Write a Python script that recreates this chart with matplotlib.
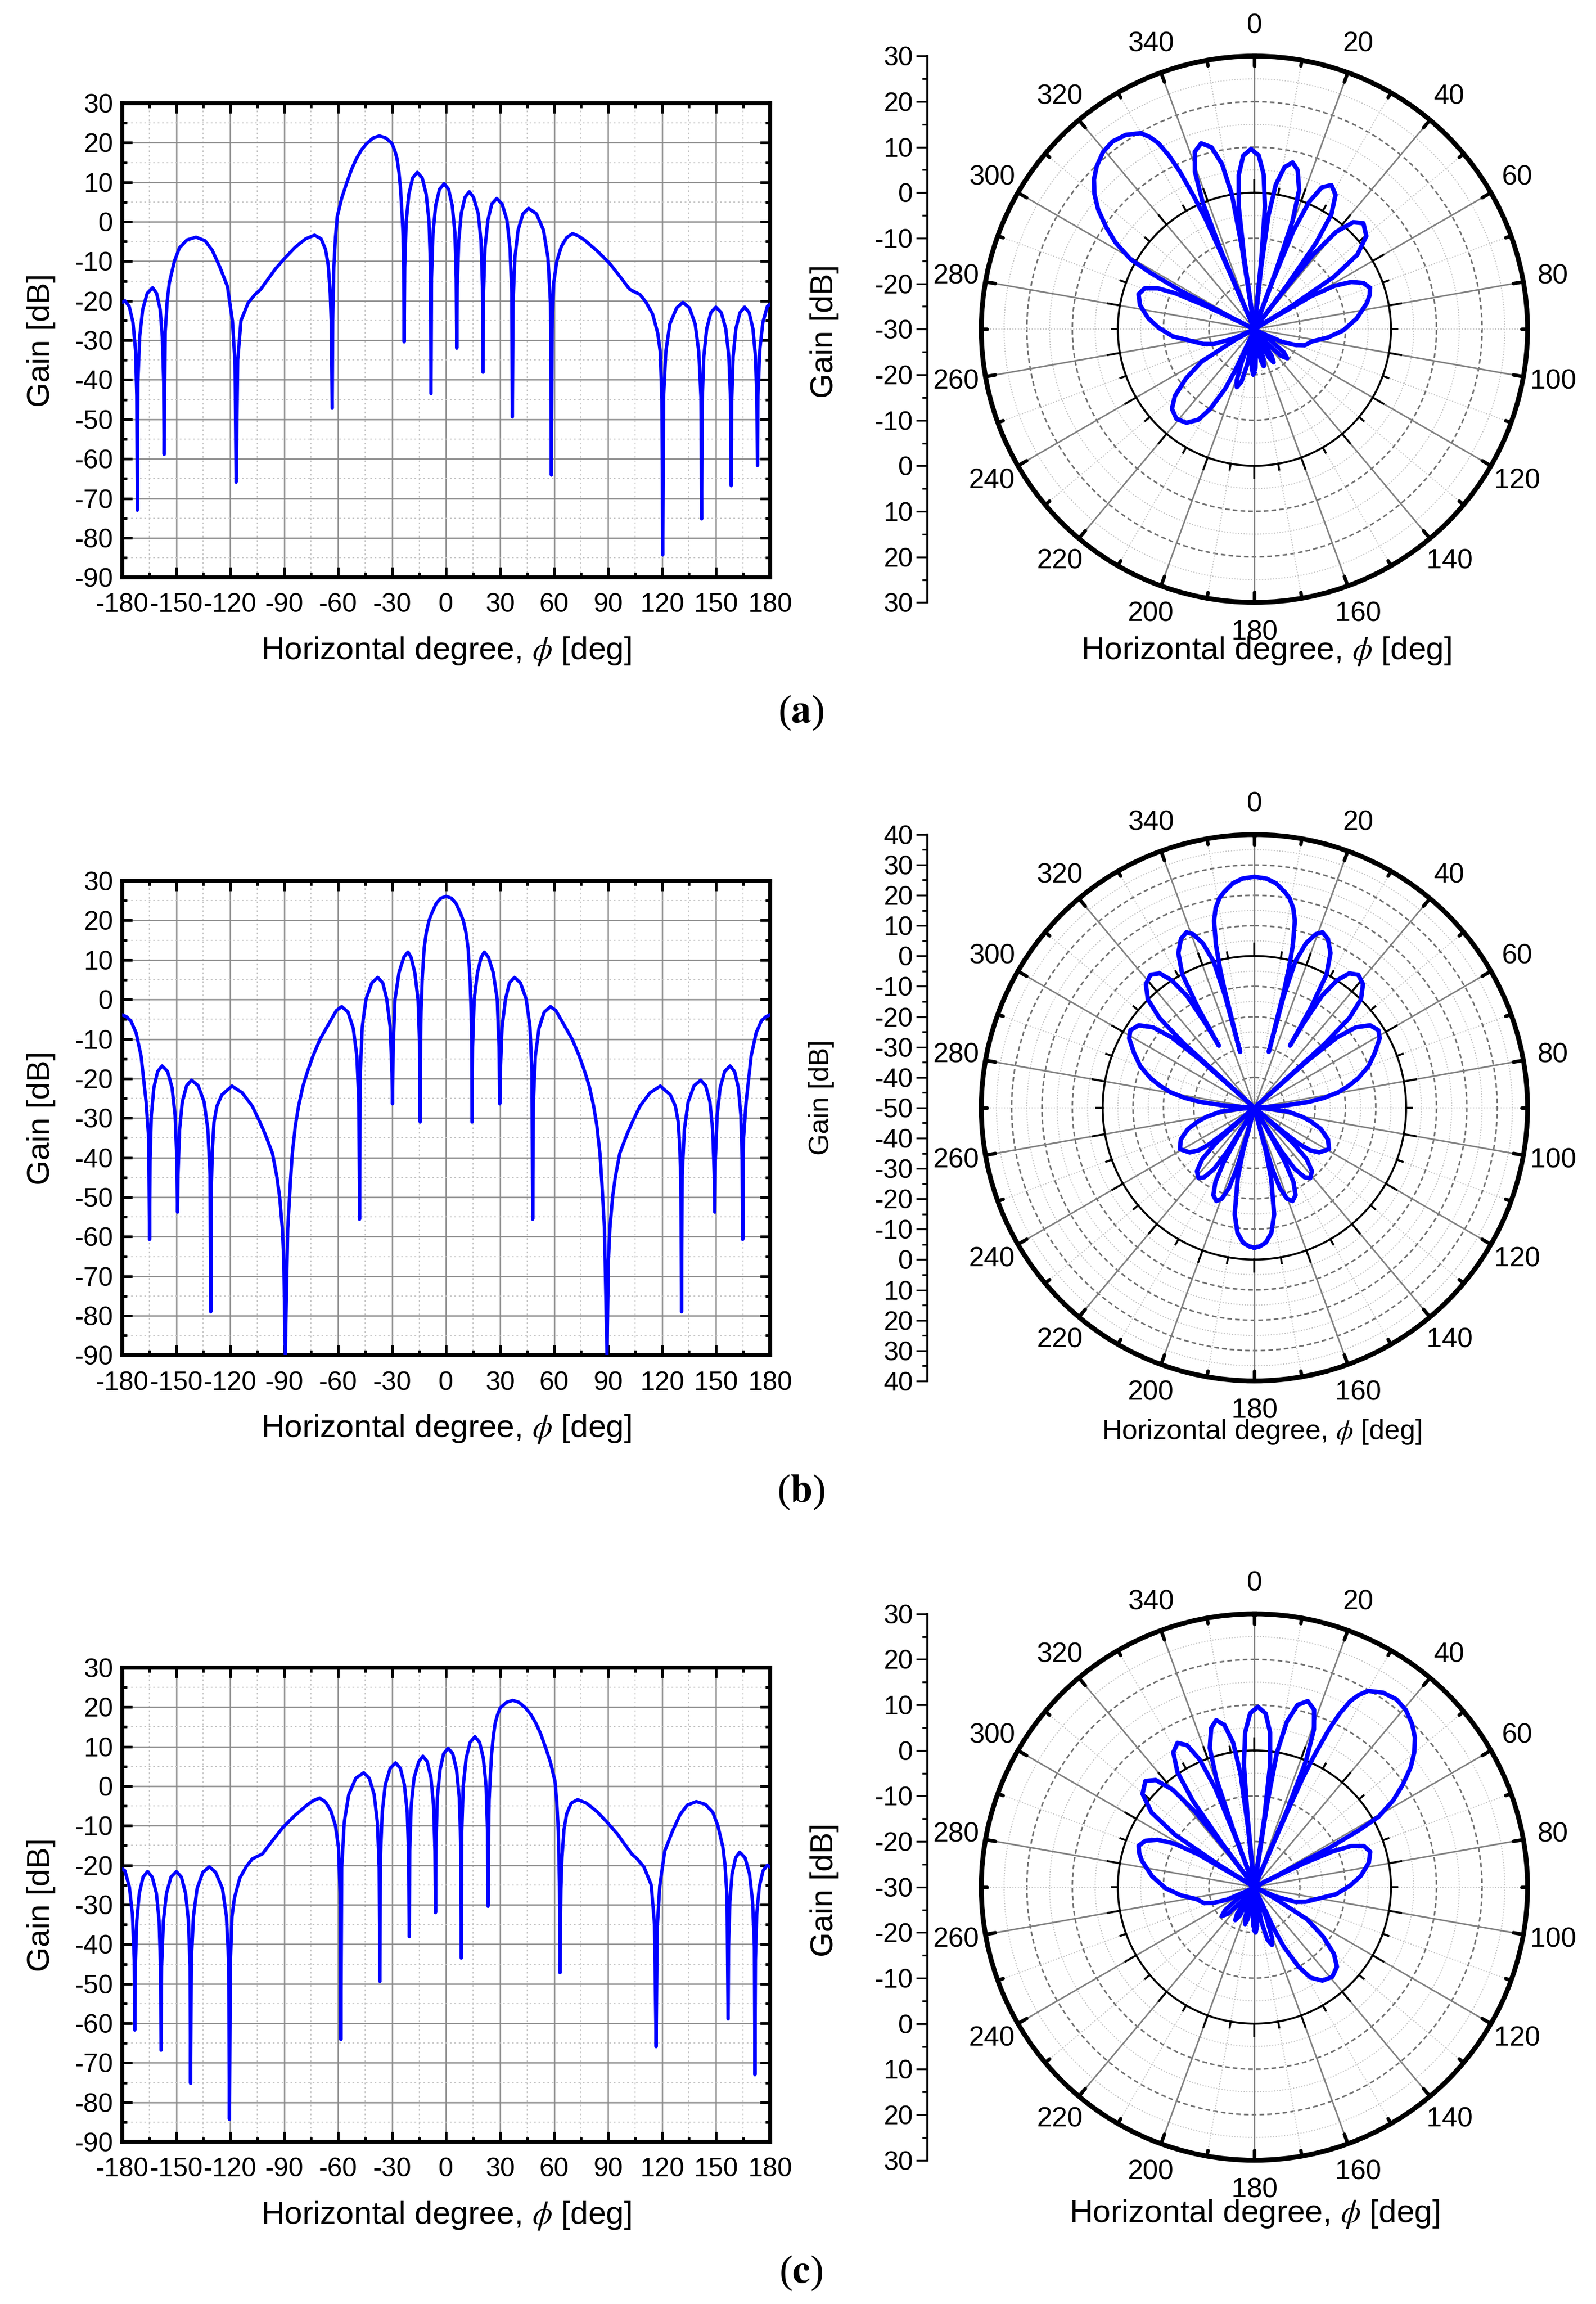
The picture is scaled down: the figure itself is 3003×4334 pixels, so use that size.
import matplotlib
matplotlib.use("Agg")
import matplotlib.pyplot as plt
import numpy as np
from matplotlib.ticker import MultipleLocator, FixedLocator


plt.rcParams["font.family"] = ["Liberation Sans", "DejaVu Sans"]
plt.rcParams["mathtext.fontset"] = "stix"
plt.rcParams["axes.unicode_minus"] = False

BLUE = "#0000FF"

# ---- (a) gain pattern, beam steered to about -37 deg ----
A_ANGLE = [
    -180.0, -178.5, -176.1, -174.0, -172.6, -171.9, -171.6, -171.3, -170.3, -168.6,
    -166.1, -163.1, -160.9, -158.9, -157.7, -156.95, -156.7, -156.1, -155.0, -153.8,
    -151.0, -148.2, -144.0, -139.0, -134.0, -130.0, -125.7, -121.5, -118.7, -117.3,
    -116.7, -115.8, -114.0, -110.0, -106.0, -103.2, -95.0, -89.2, -84.0, -78.0,
    -73.1, -69.5, -67.0, -65.5, -64.4, -63.8, -63.3, -63.0, -62.4, -61.5,
    -60.5, -58.0, -55.4, -52.5, -49.8, -47.0, -44.1, -40.5, -37.1, -33.5,
    -30.1, -28.5, -27.3, -26.2, -25.3, -24.5, -23.9, -23.6, -23.3, -23.0,
    -22.2, -20.7, -18.6, -16.0, -13.3, -11.1, -9.5, -8.7, -8.4, -8.1,
    -7.3, -5.8, -3.7, -1.1, 1.4, 3.4, 4.9, 5.6, 5.9, 6.2,
    7.0, 8.4, 10.5, 12.9, 15.2, 17.8, 19.4, 20.2, 20.5, 20.8,
    21.6, 23.2, 25.4, 28.1, 31.1, 33.8, 35.5, 36.5, 36.8, 37.2,
    38.2, 40.0, 42.7, 45.8, 50.2, 54.1, 56.6, 58.0, 58.5, 58.9,
    59.8, 61.5, 64.0, 67.0, 70.3, 73.5, 76.8, 84.0, 90.8, 96.5,
    102.0, 105.0, 107.7, 111.0, 114.7, 117.6, 119.0, 119.9, 120.4, 120.85,
    122.1, 124.3, 128.1, 131.6, 135.2, 138.4, 140.4, 141.6, 142.0, 142.3,
    143.2, 144.8, 147.1, 149.9, 152.9, 155.4, 157.1, 158.1, 158.4, 158.7,
    159.5, 161.0, 163.3, 165.9, 168.4, 170.5, 171.9, 172.7, 173.0, 173.3,
    174.3, 176.0, 178.5, 180.0,
]
A_GAIN = [
    -20.4, -20.0, -21.4, -25.5, -32.5, -44.0, -73.0, -40.7, -29.2, -22.2,
    -18.1, -16.7, -18.1, -22.2, -29.2, -40.7, -58.9, -28.0, -20.0, -15.4,
    -10.0, -6.6, -4.6, -3.9, -4.8, -7.2, -11.5, -16.4, -25.3, -36.0,
    -65.9, -35.0, -25.0, -20.5, -18.3, -17.2, -12.0, -9.0, -6.5, -4.3,
    -3.4, -4.3, -7.0, -11.0, -18.0, -26.0, -47.2, -25.0, -11.5, -4.0,
    1.3, 6.0, 9.6, 13.3, 16.0, 18.2, 19.8, 21.2, 21.7, 21.2,
    19.8, 18.0, 16.0, 12.5, 8.2, 2.0, -3.6, -12.0, -30.4, -11.5,
    0.0, 7.0, 11.1, 12.5, 11.1, 7.0, 0.0, -11.5, -43.5, -14.4,
    -2.9, 4.1, 8.2, 9.6, 8.2, 4.1, -2.9, -14.4, -32.0, -16.4,
    -4.9, 2.1, 6.2, 7.6, 6.2, 2.1, -4.9, -16.4, -38.1, -18.1,
    -6.6, 0.4, 4.5, 5.9, 4.5, 0.4, -6.6, -18.1, -49.4, -20.6,
    -9.1, -2.1, 2.0, 3.4, 2.0, -2.1, -9.1, -20.6, -64.1, -27.0,
    -15.5, -10.0, -6.3, -4.0, -3.0, -3.6, -4.6, -7.4, -10.5, -13.8,
    -17.1, -17.8, -18.4, -20.3, -23.3, -28.2, -33.0, -45.0, -84.3, -44.4,
    -32.9, -25.9, -21.8, -20.4, -21.8, -25.9, -32.9, -44.4, -75.2, -45.6,
    -34.1, -27.1, -23.0, -21.6, -23.0, -27.1, -34.1, -45.6, -66.8, -45.6,
    -34.1, -27.1, -23.0, -21.6, -23.0, -27.1, -34.1, -45.6, -61.7, -44.0,
    -32.5, -25.5, -21.4, -20.9,
]

# ---- (b) gain pattern, broadside beam ----
B_ANGLE = [
    -180.0, -177.8, -175.2, -172.3, -169.5, -166.7, -165.3, -164.8, -164.5, -163.8,
    -162.4, -160.3, -157.8, -154.8, -152.3, -150.6, -149.6, -149.3, -149.0, -148.1,
    -146.6, -144.2, -141.5, -137.8, -134.5, -132.4, -131.2, -130.8, -130.5, -129.9,
    -129.0, -127.4, -124.6, -119.0, -113.3, -107.7, -103.5, -100.7, -96.5, -94.0,
    -92.5, -91.0, -90.2, -89.4, -88.0, -86.6, -85.5, -83.8, -82.0, -79.6,
    -77.0, -74.0, -70.0, -65.5, -61.0, -58.0, -54.5, -51.6, -49.6, -48.5,
    -48.1, -47.7, -46.6, -44.5, -41.3, -38.0, -35.2, -33.0, -31.1, -30.1,
    -29.8, -29.4, -28.4, -26.2, -23.5, -21.2, -19.5, -17.4, -15.6, -14.7,
    -14.4, -14.2, -13.9, -13.3, -12.2, -11.0, -9.5, -8.0, -5.5, -3.0,
    0.0,
    3.0, 5.5, 8.0, 9.5, 11.0, 12.2, 13.3, 13.9, 14.2, 14.4,
    14.7, 15.6, 17.4, 19.5, 21.2, 23.5, 26.2, 28.4, 29.4, 29.8,
    30.1, 31.1, 33.0, 35.2, 38.0, 41.3, 44.5, 46.6, 47.7, 48.1,
    48.5, 49.6, 51.6, 54.5, 58.0, 61.0, 65.5, 70.0, 74.0, 77.0,
    79.6, 82.0, 83.8, 85.5, 86.6, 88.0, 89.4, 90.2, 91.0, 92.5,
    94.0, 96.5, 100.7, 103.5, 107.7, 113.3, 119.0, 124.6, 127.4, 129.0,
    129.9, 130.5, 130.8, 131.2, 132.4, 134.5, 137.8, 141.5, 144.2, 146.6,
    148.1, 149.0, 149.3, 149.6, 150.6, 152.3, 154.8, 157.8, 160.3, 162.4,
    163.8, 164.5, 164.8, 165.3, 166.7, 169.5, 172.3, 175.2, 177.8, 180.0,
]
B_GAIN = [
    -3.9, -4.3, -5.4, -8.4, -14.3, -26.0, -35.0, -60.7, -40.8, -29.3,
    -22.3, -18.2, -16.8, -18.2, -22.3, -29.3, -40.8, -53.8, -44.4, -32.9,
    -25.9, -21.8, -20.4, -21.8, -25.9, -32.9, -44.4, -79.0, -48.0, -38.0,
    -31.0, -27.0, -24.1, -21.9, -23.6, -27.0, -31.0, -33.9, -38.9, -45.0,
    -50.0, -58.0, -66.0, -90.0, -58.0, -46.7, -39.0, -32.0, -27.0, -22.0,
    -18.2, -14.3, -10.0, -6.4, -2.8, -1.8, -3.2, -7.3, -14.3, -26.0,
    -55.6, -18.6, -6.9, 0.1, 4.2, 5.6, 4.2, 0.1, -6.9, -18.6,
    -26.4, -12.0, 0.0, 6.8, 10.7, 12.0, 10.7, 6.8, 0.0, -12.0,
    -31.0, -10.0, -3.0, 5.0, 13.0, 17.0, 20.0, 21.8, 24.3, 25.6,
    26.1,
    25.6, 24.3, 21.8, 20.0, 17.0, 13.0, 5.0, -3.0, -10.0, -31.0,
    -12.0, 0.0, 6.8, 10.7, 12.0, 10.7, 6.8, 0.0, -12.0, -26.4,
    -18.6, -6.9, 0.1, 4.2, 5.6, 4.2, 0.1, -6.9, -18.6, -55.6,
    -26.0, -14.3, -7.3, -3.2, -1.8, -2.8, -6.4, -10.0, -14.3, -18.2,
    -22.0, -27.0, -32.0, -39.0, -46.7, -58.0, -90.0, -66.0, -58.0, -50.0,
    -45.0, -38.9, -33.9, -31.0, -27.0, -23.6, -21.9, -24.1, -27.0, -31.0,
    -38.0, -48.0, -79.0, -44.4, -32.9, -25.9, -21.8, -20.4, -21.8, -25.9,
    -32.9, -44.4, -53.8, -40.8, -29.3, -22.3, -18.2, -16.8, -18.2, -22.3,
    -29.3, -40.8, -60.7, -35.0, -26.0, -14.3, -8.4, -5.4, -4.3, -3.9,
]

# ---- (c) gain pattern, beam steered to about +37 deg ----
C_ANGLE = [
    -180.0, -178.5, -176.0, -174.3,
    -173.3, -173.0, -172.7, -171.9, -170.5, -168.4, -165.9, -163.3, -161.0, -159.5,
    -158.7, -158.4, -158.1, -157.1, -155.4, -152.9, -149.9, -147.1, -144.8, -143.2,
    -142.3, -142.0, -141.6, -140.4, -138.4, -135.2, -131.6, -128.1, -124.3, -122.1,
    -120.85, -120.4, -119.9, -119.0, -117.6, -114.7, -111.0, -107.7, -105.0, -102.0,
    -96.5, -90.8, -84.0, -76.8, -73.5, -70.3, -67.0, -64.0, -61.5, -59.8,
    -58.9, -58.5, -58.0, -56.6, -54.1, -50.2, -45.8, -42.7, -40.0, -38.2,
    -37.2, -36.8, -36.5, -35.5, -33.8, -31.1, -28.1, -25.4, -23.2, -21.6,
    -20.8, -20.5, -20.2, -19.4, -17.8, -15.2, -12.9, -10.5, -8.4, -7.0,
    -6.2, -5.9, -5.6, -4.9, -3.4, -1.4, 1.1, 3.7, 5.8, 7.3,
    8.1, 8.4, 8.7, 9.5, 11.1, 13.3, 16.0, 18.6, 20.7, 22.2,
    23.0, 23.3, 23.6, 23.9, 24.5, 25.3, 26.2, 27.3, 28.5, 30.1,
    33.5, 37.1, 40.5, 44.1, 47.0, 49.8, 52.5, 55.4, 58.0, 60.5,
    61.5, 62.4, 63.0, 63.3, 63.8, 64.4, 65.5, 67.0, 69.5, 73.1,
    78.0, 84.0, 89.2, 95.0, 103.2, 106.0, 110.0, 114.0, 115.8, 116.7,
    117.3, 118.7, 121.5, 125.7, 130.0, 134.0, 139.0, 144.0, 148.2, 151.0,
    153.8, 155.0, 156.1, 156.7, 156.95, 157.7, 158.9, 160.9, 163.1, 166.1,
    168.6, 170.3, 171.3, 171.6, 171.9, 172.6, 174.0, 176.1, 178.5, 180.0,
]
C_GAIN = [
    -20.9, -21.4, -25.5, -32.5,
    -44.0, -61.7, -45.6, -34.1, -27.1, -23.0, -21.6, -23.0, -27.1, -34.1,
    -45.6, -66.8, -45.6, -34.1, -27.1, -23.0, -21.6, -23.0, -27.1, -34.1,
    -45.6, -75.2, -44.4, -32.9, -25.9, -21.8, -20.4, -21.8, -25.9, -32.9,
    -44.4, -84.3, -45.0, -33.0, -28.2, -23.3, -20.3, -18.4, -17.8, -17.1,
    -13.8, -10.5, -7.4, -4.6, -3.6, -3.0, -4.0, -6.3, -10.0, -15.5,
    -27.0, -64.1, -20.6, -9.1, -2.1, 2.0, 3.4, 2.0, -2.1, -9.1,
    -20.6, -49.4, -18.1, -6.6, 0.4, 4.5, 5.9, 4.5, 0.4, -6.6,
    -18.1, -38.1, -16.4, -4.9, 2.1, 6.2, 7.6, 6.2, 2.1, -4.9,
    -16.4, -32.0, -14.4, -2.9, 4.1, 8.2, 9.6, 8.2, 4.1, -2.9,
    -14.4, -43.5, -11.5, 0.0, 7.0, 11.1, 12.5, 11.1, 7.0, 0.0,
    -11.5, -30.4, -12.0, -3.6, 2.0, 8.2, 12.5, 16.0, 18.0, 19.8,
    21.2, 21.7, 21.2, 19.8, 18.2, 16.0, 13.3, 9.6, 6.0, 1.3,
    -4.0, -11.5, -25.0, -47.2, -26.0, -18.0, -11.0, -7.0, -4.3, -3.4,
    -4.3, -6.5, -9.0, -12.0, -17.2, -18.3, -20.5, -25.0, -35.0, -65.9,
    -36.0, -25.3, -16.4, -11.5, -7.2, -4.8, -3.9, -4.6, -6.6, -10.0,
    -15.4, -20.0, -28.0, -58.9, -40.7, -29.2, -22.2, -18.1, -16.7, -18.1,
    -22.2, -29.2, -40.7, -73.0, -44.0, -32.5, -25.5, -21.4, -20.0, -20.4,
]

PANEL_LABELS = ["a", "b", "c"]
POLAR_RANGES = [(-30, 30), (-50, 40), (-30, 30)]

XLABEL = r"Horizontal degree, $\phi$ [deg]"

W, H = 1084.0, 1564.0   # reference layout units


def fx(x):
    return x / W


def fy(y):
    return 1 - y / H


def draw_cartesian(fig, top, angle, gain):
    bottom = top + 322
    ax = fig.add_axes([fx(83), fy(bottom), fx(523) - fx(83), (bottom - top) / H])
    ax.plot(angle, gain, color=BLUE, lw=1.5, zorder=3)
    ax.set_xlim(-180, 180)
    ax.set_ylim(-90, 30)
    ax.xaxis.set_major_locator(MultipleLocator(30))
    ax.xaxis.set_minor_locator(MultipleLocator(15))
    ax.yaxis.set_major_locator(MultipleLocator(10))
    ax.yaxis.set_minor_locator(MultipleLocator(5))
    ax.set_axisbelow(True)
    ax.grid(which="major", color="#8a8a8a", lw=0.6)
    ax.grid(which="minor", color="#c8c8c8", lw=0.5, ls=(0, (1.5, 2.5)))
    ax.tick_params(which="both", direction="in", top=True, right=True,
                   width=1.2, labelsize=12)
    ax.tick_params(which="major", length=4.5)
    ax.tick_params(which="minor", length=2.2)
    ax.tick_params(axis="x", pad=7)
    ax.tick_params(axis="y", pad=4)
    for sp in ax.spines.values():
        sp.set_linewidth(1.8)
    fig.text(fx(303), fy(bottom + 50), XLABEL, ha="center", va="center", fontsize=14.5)
    fig.text(fx(28), fy(top + 161), "Gain [dB]", ha="center", va="center",
             rotation=90, fontsize=14.5)
    return ax


def draw_polar(fig, cy, angle, gain, rmin, rmax):
    r_disp = 185.5
    rect = [fx(852 - r_disp), fy(cy + r_disp), 2 * r_disp / W, 2 * r_disp / H]
    ax = fig.add_axes(rect, projection="polar")
    ax.set_theta_zero_location("N")
    ax.set_theta_direction(-1)
    ax.set_ylim(rmin, rmax)
    ax.set_xticks([])
    ax.set_yticks([])
    ax.grid(False)
    span = rmax - rmin

    ring = np.linspace(0, 2 * np.pi, 721)
    for r in np.arange(rmin + 5, rmax, 5):
        if r == 0:
            ax.plot(ring, np.full_like(ring, r), color="black", lw=0.9, zorder=2)
        elif r % 10 == 0:
            ax.plot(ring, np.full_like(ring, r), color="#707070", lw=0.7,
                    ls=(0, (3, 2)), zorder=1)
        else:
            ax.plot(ring, np.full_like(ring, r), color="#c4c4c4", lw=0.5,
                    ls=(0, (1, 1.5)), zorder=1)

    for deg in range(0, 360, 10):
        th = np.deg2rad(deg)
        major = deg % 20 == 0
        if major:
            ax.plot([th, th], [rmin, rmax], color="#808080", lw=0.7, zorder=1)
        else:
            ax.plot([th, th], [rmin, rmax], color="#c4c4c4", lw=0.5,
                    ls=(0, (1, 1.5)), zorder=1)
        lo = 0.037 if major else 0.021
        ax.plot([th, th], [rmax - lo * span, rmax], color="black", lw=1.6,
                solid_capstyle="round", zorder=2)
        li = 0.045 if major else 0.022
        ax.plot([th, th], [0, li * span], color="black", lw=0.9, zorder=2)
        if major:
            ax.text(0.5 + 0.555 * np.sin(th), 0.5 + 0.555 * np.cos(th), str(deg),
                    transform=ax.transAxes, ha="center", va="center", fontsize=12.5)

    ax.plot(np.deg2rad(angle), np.clip(gain, rmin, rmax), color=BLUE, lw=2.0, zorder=3)
    ax.spines["polar"].set_linewidth(2.2)

    # stand-alone radial scale on the left
    rax = fig.add_axes([fx(630), rect[1], 0.0001, rect[3]])
    rax.set_ylim(-span, span)
    ticks = np.arange(-span, span + 1, 10)
    rax.yaxis.set_major_locator(FixedLocator(ticks))
    rax.set_yticklabels([f"{abs(t) + rmin:d}" for t in ticks])
    rax.yaxis.set_minor_locator(MultipleLocator(5))
    rax.set_xticks([])
    for side in ["top", "right", "bottom"]:
        rax.spines[side].set_visible(False)
    rax.spines["left"].set_linewidth(1.0)
    rax.patch.set_visible(False)
    rax.tick_params(axis="y", which="both", direction="out", width=0.8,
                    labelsize=12, pad=1.5)
    rax.tick_params(axis="y", which="major", length=5)
    rax.tick_params(axis="y", which="minor", length=2.5)
    return ax


def main():
    fig = plt.figure(figsize=(10.01, 14.4467), dpi=300, facecolor="white")

    angles = [A_ANGLE, B_ANGLE, C_ANGLE]
    gains = [A_GAIN, B_GAIN, C_GAIN]
    cart_tops = [70, 598, 1132]
    polar_cy = [223.5, 752, 1281]
    polar_xlab = [(860, 442, 14.5), (857, 972, 12.5), (852, 1503, 14.5)]
    polar_ylab = [(560, 225, 14.5), (558, 745, 12.5), (560, 1283, 14.5)]
    caption_y = [484, 1013, 1543]

    for i in range(3):
        draw_cartesian(fig, cart_tops[i], angles[i], gains[i])
        rmin, rmax = POLAR_RANGES[i]
        draw_polar(fig, polar_cy[i], angles[i], gains[i], rmin, rmax)
        x, y, s = polar_xlab[i]
        fig.text(fx(x), fy(y), XLABEL, ha="center", va="center", fontsize=s)
        x, y, s = polar_ylab[i]
        fig.text(fx(x), fy(y), "Gain [dB]", ha="center", va="center",
                 rotation=90, fontsize=s)
        fig.text(0.502, fy(caption_y[i]), r"($\mathbf{" + PANEL_LABELS[i] + r"}$)",
                 ha="center", va="center", fontsize=18,
                 family=["Liberation Serif", "DejaVu Serif"])

    fig.savefig("out.png", dpi=300, facecolor="white")


if __name__ == "__main__":
    main()
